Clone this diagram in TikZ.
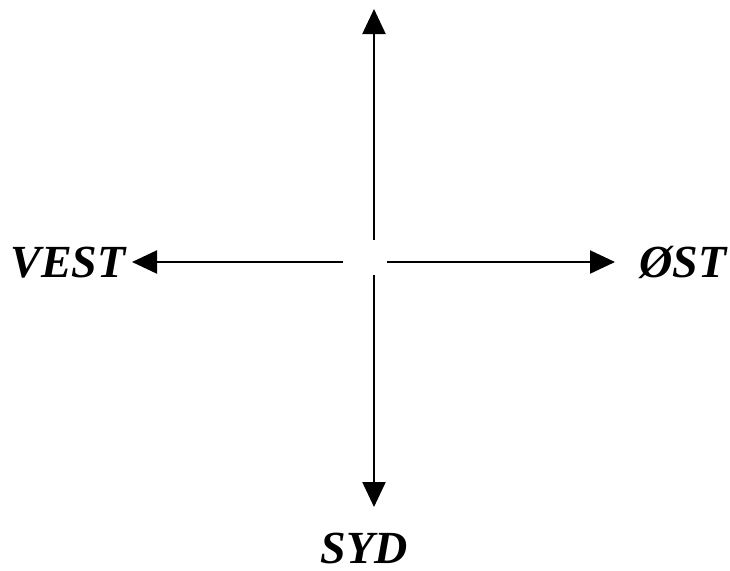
\documentclass[tikz,border=0pt]{standalone}
\usepackage{fontspec}
\newfontfamily\lblfont{Liberation Serif Bold Italic}
\usetikzlibrary{arrows.meta}
\begin{document}
\begin{tikzpicture}[x=1pt,y=-1pt,
  arr/.style={line width=2.2pt,-{Triangle[length=25pt,width=23pt]}},
  lbl/.style={anchor=base,inner sep=0pt,text depth=0pt,font=\fontsize{46}{50}\lblfont}]
\useasboundingbox (0,0) rectangle (730,570);
\coordinate (cn) at (374,240);
\coordinate (cs) at (374,275);
\coordinate (cw) at (343,262);
\coordinate (ce) at (387,262);
\coordinate (tn) at (374,9);
\coordinate (ts) at (374,507);
\coordinate (tw) at (132,262);
\coordinate (te) at (615,262);
\node[lbl] (vest) at (68,277) {VEST};
\node[lbl] (ost) at (683,277) {ØST};
\node[lbl] (syd) at (364,563) {SYD};
\draw[arr] (cn) -- (tn);
\draw[arr] (cs) -- (ts);
\draw[arr] (cw) -- (tw);
\draw[arr] (ce) -- (te);
\end{tikzpicture}
\end{document}
